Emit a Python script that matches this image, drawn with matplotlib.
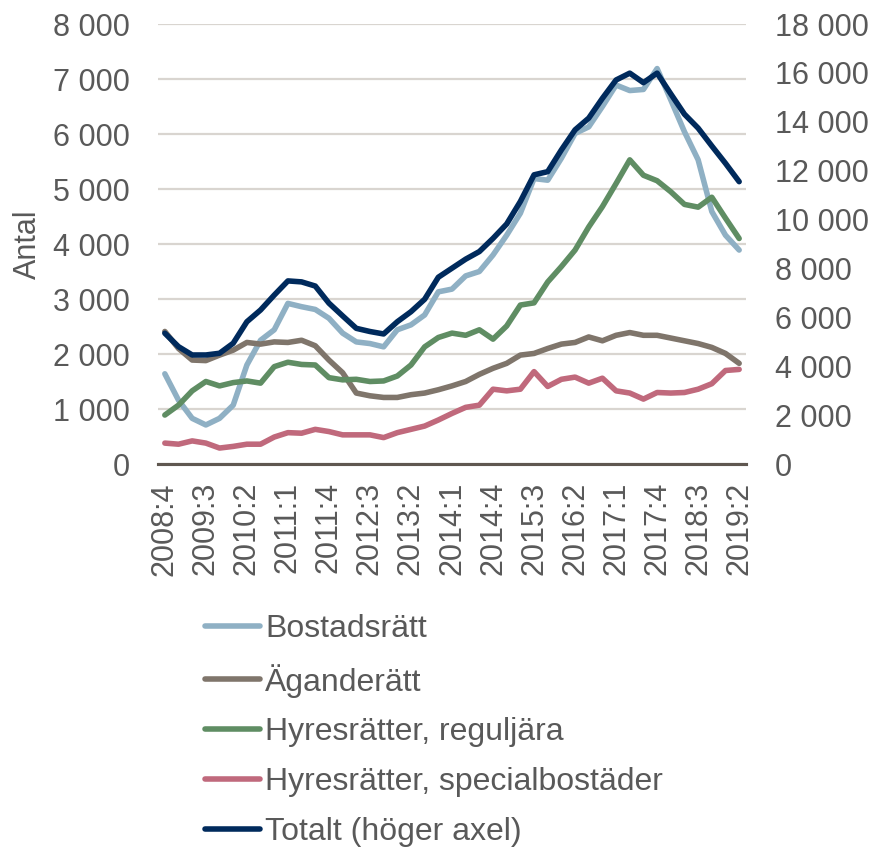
import matplotlib
matplotlib.use("Agg")
import matplotlib.pyplot as plt
import matplotlib.ticker as mtick

# ==========================================================
# 1. Data
# ==========================================================
quarters = [f"{y}:{q}" for y in range(2008, 2020) for q in range(1, 5)]
quarters = quarters[quarters.index("2008:4"):quarters.index("2019:2") + 1]

bostadsratt = [1640, 1160, 830, 710, 830, 1070, 1800, 2250, 2440, 2920,
               2860, 2810, 2650, 2380, 2220, 2190, 2130, 2440, 2530, 2710,
               3130, 3180, 3420, 3500, 3800, 4160, 4560, 5190, 5160, 5560,
               6010, 6130, 6500, 6890, 6790, 6810, 7190, 6620, 6040, 5530,
               4590, 4160, 3890]

aganderatt = [2410, 2100, 1890, 1880, 1980, 2070, 2210, 2180, 2220, 2210,
              2250, 2150, 1890, 1660, 1290, 1240, 1210, 1210, 1260, 1290,
              1350, 1420, 1500, 1630, 1740, 1830, 1980, 2010, 2100, 2180,
              2210, 2310, 2240, 2340, 2390, 2340, 2340, 2290, 2240, 2190,
              2120, 2010, 1830]

reguljara = [890, 1070, 1330, 1500, 1420, 1480, 1510, 1470, 1770, 1850,
             1810, 1800, 1570, 1530, 1540, 1500, 1510, 1600, 1800, 2130,
             2300, 2380, 2340, 2440, 2270, 2510, 2890, 2930, 3310, 3590,
             3890, 4310, 4680, 5100, 5530, 5250, 5150, 4950, 4720, 4670,
             4850, 4470, 4100]

specialbostader = [380, 360, 420, 380, 290, 320, 360, 360, 490, 570,
                   560, 630, 590, 530, 530, 530, 480, 570, 630, 690,
                   800, 920, 1030, 1070, 1360, 1330, 1360, 1680, 1410, 1540,
                   1580, 1470, 1560, 1330, 1290, 1180, 1300, 1290, 1300, 1360,
                   1460, 1700, 1720]

totalt = [5350, 4800, 4460, 4460, 4530, 4940, 5820, 6300, 6910, 7490,
          7450, 7280, 6580, 6060, 5550, 5420, 5320, 5820, 6230, 6740,
          7640, 8010, 8380, 8690, 9230, 9820, 10740, 11830, 11960, 12850,
          13670, 14150, 14960, 15710, 15990, 15600, 15990, 15140, 14310, 13740,
          13010, 12300, 11550]

left_series = [
    ("Bostadsrätt", bostadsratt, "#8FB0C4"),
    ("Äganderätt", aganderatt, "#7F756B"),
    ("Hyresrätter, reguljära", reguljara, "#5F8D63"),
    ("Hyresrätter, specialbostäder", specialbostader, "#C0697C"),
]
total_label = "Totalt (höger axel)"
total_color = "#002A5C"

# ==========================================================
# 2. Style
# ==========================================================
plt.rcParams["font.family"] = ["Liberation Sans", "DejaVu Sans"]
text_color = "#595959"
font_size = 22
legend_size = 23
lw = 4.0

fmt = mtick.FuncFormatter(lambda v, pos: f"{int(v):,}".replace(",", " "))

# ==========================================================
# 3. Figure
# ==========================================================
fig = plt.figure(figsize=(8.75, 8.47), dpi=100)
ax1 = fig.add_axes([158 / 875, 1 - 464 / 847, 588 / 875, 440 / 847])
ax2 = ax1.twinx()

x = list(range(len(quarters)))
handles = []
for label, values, color in left_series:
    (ln,) = ax1.plot(x, values, color=color, linewidth=lw,
                     solid_joinstyle="round", solid_capstyle="round", label=label)
    handles.append(ln)

(ln,) = ax2.plot(x, totalt, color=total_color, linewidth=lw,
                 solid_joinstyle="round", solid_capstyle="round", label=total_label)
handles.append(ln)

# Left axis
ax1.set_xlim(-0.5, len(quarters) - 0.5)
ax1.set_ylim(0, 8000)
ax1.yaxis.set_major_locator(mtick.MultipleLocator(1000))
ax1.yaxis.set_major_formatter(fmt)
ax1.grid(axis="y", color="#D9D5D0", linewidth=1.6)
ax1.set_axisbelow(True)

# Right axis
ax2.set_ylim(0, 18000)
ax2.yaxis.set_major_locator(mtick.MultipleLocator(2000))
ax2.yaxis.set_major_formatter(fmt)

for ax in (ax1, ax2):
    for side in ("top", "left", "right"):
        ax.spines[side].set_visible(False)
    ax.spines["bottom"].set_color("#5F5750")
    ax.spines["bottom"].set_linewidth(2.2)
    ax.tick_params(length=0, labelsize=font_size, labelcolor=text_color)

ax1.tick_params(axis="y", pad=20)
ax2.tick_params(axis="y", pad=21)

ax1.set_xticks(x[::3])
ax1.set_xticklabels(quarters[::3], rotation=90)
ax1.tick_params(axis="x", pad=13)

ax1.set_ylabel("Antal", fontsize=font_size, color=text_color)
ax1.yaxis.set_label_coords(-0.195, 0.5)

# ==========================================================
# 4. Legend
# ==========================================================
fig.legend(
    handles,
    [h.get_label() for h in handles],
    loc="upper left",
    bbox_to_anchor=(205 / 875, 1 - 614 / 847),
    frameon=False,
    fontsize=legend_size,
    labelcolor=text_color,
    handlelength=1.72,
    handletextpad=0.16,
    labelspacing=0.62,
    borderpad=0,
    borderaxespad=0,
)

fig.savefig("out.png", dpi=100, facecolor="white")
